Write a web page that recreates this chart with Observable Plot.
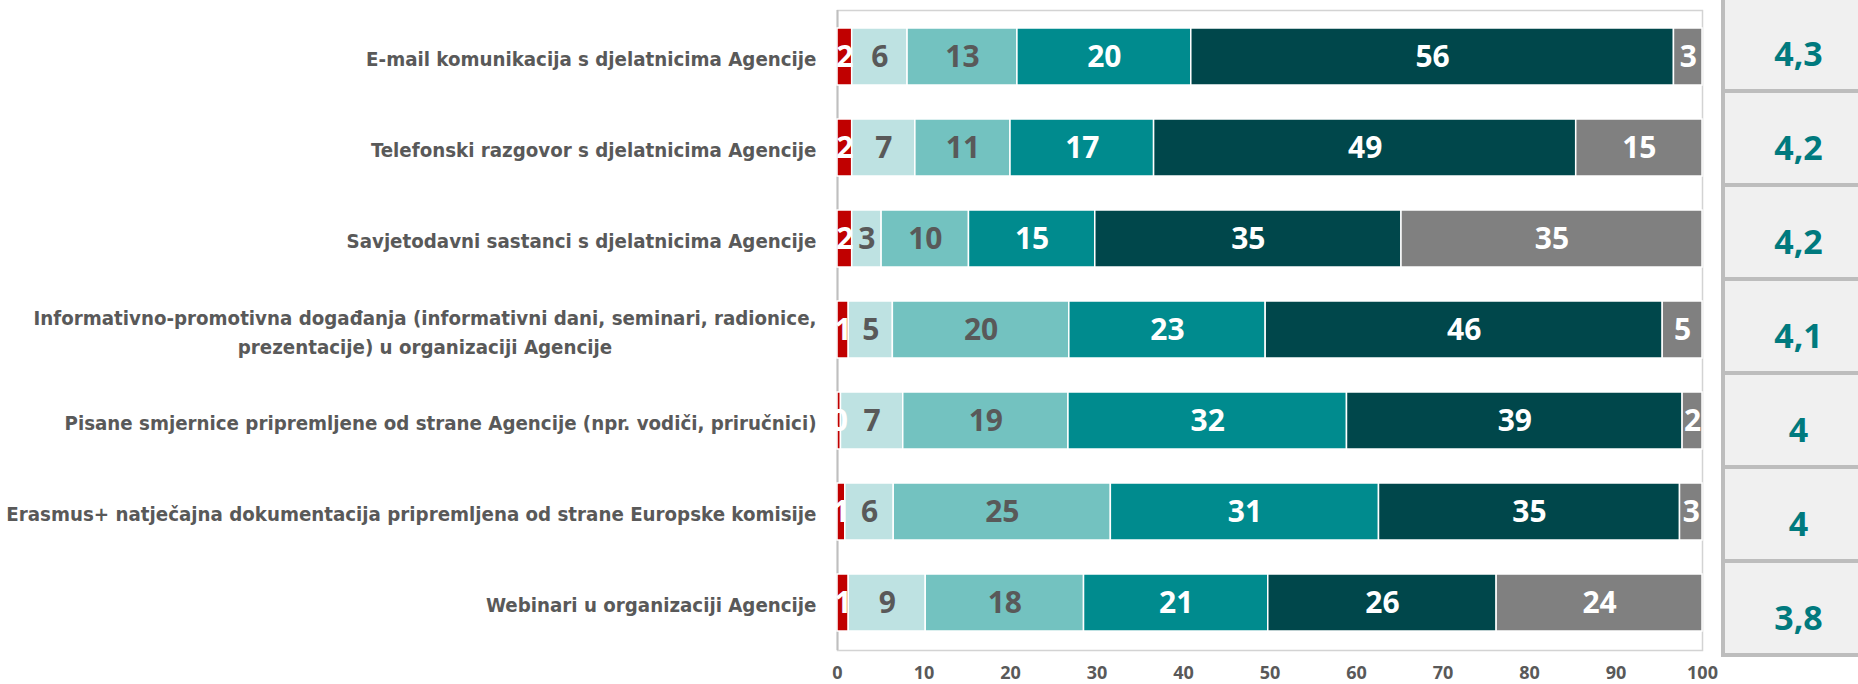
<!DOCTYPE html>
<html><head><meta charset="utf-8">
<script src="https://cdn.jsdelivr.net/npm/d3@7"></script>
<script src="https://cdn.jsdelivr.net/npm/@observablehq/plot@0.6"></script>
<style>
html,body{margin:0;padding:0;background:#fff;overflow:hidden;}
#wrap{position:relative;width:1858px;height:684px;overflow:hidden;}
#box{position:absolute;left:1721px;top:-4px;width:152px;height:661px;}
</style></head><body><div id="wrap"><div id="main"></div><div id="box"></div></div>
<script>
const categories = [
  "E-mail komunikacija s djelatnicima Agencije",
  "Telefonski razgovor s djelatnicima Agencije",
  "Savjetodavni sastanci s djelatnicima Agencije",
  "Informativno-promotivna događanja (informativni dani, seminari, radionice,\nprezentacije) u organizaciji Agencije",
  "Pisane smjernice pripremljene od strane Agencije (npr. vodiči, priručnici)",
  "Erasmus+ natječajna dokumentacija pripremljena od strane Europske komisije",
  "Webinari u organizaciji Agencije"
];
const seriesNames = ["1", "2", "3", "4", "5", "Ne znam"];
const seriesColors = ["#C00000", "#BEE2E2", "#73C2C0", "#008B8E", "#00474B", "#808080"];
const darkLabelSeries = ["2", "3"];

const s1 = [1.7, 1.7, 1.7, 1.3, 0.4, 0.9, 1.3];
const s2 = [6.4, 7.3, 3.4, 5.1, 7.2, 5.6, 8.9];
const s3 = [12.7, 11.0, 10.1, 20.4, 19.1, 25.1, 18.3];
const s4 = [20.1, 16.6, 14.6, 22.7, 32.2, 31.0, 21.3];
const s5 = [55.8, 48.8, 35.4, 45.9, 38.8, 34.8, 26.4];
const sNA = [3.3, 14.6, 34.8, 4.6, 2.3, 2.6, 23.8];
const averages = [4.3, 4.2, 4.2, 4.1, 4.0, 4.0, 3.8];
const xTicks = [0, 10, 20, 30, 40, 50, 60, 70, 80, 90, 100];

const seriesValues = [s1, s2, s3, s4, s5, sNA];
const rows = [];
seriesNames.forEach((s, si) => {
  categories.forEach((c, ci) => rows.push({category: c, series: s, value: seriesValues[si][ci]}));
});
const avgRows = categories.map((c, i) => ({category: c, avg: averages[i]}));

const numFont = "'Open Sans', 'Noto Sans', sans-serif";
const labelFont = "'Liberation Sans Narrow', 'DejaVu Sans Condensed', 'Open Sans', sans-serif";

const main = Plot.plot({
  width: 1858, height: 684,
  marginLeft: 837, marginRight: 156, marginTop: 10, marginBottom: 34,
  style: {fontFamily: numFont, background: "white"},
  x: {domain: [0, 100]},
  y: {domain: categories, paddingInner: 0.37, paddingOuter: 0.185},
  color: {domain: seriesNames, range: seriesColors},
  marks: [
    Plot.frame({stroke: "#D3D3D3", strokeWidth: 1.5}),
    Plot.ruleX([0], {stroke: "#BFBFBF", strokeWidth: 2}),
    Plot.barX(rows, Plot.stackX({x: "value", y: "category", fill: "series", stroke: "white", strokeWidth: 1.5})),
    Plot.text(rows, Plot.stackX({x: "value", y: "category", z: "series",
      text: d => darkLabelSeries.includes(d.series) ? String(Math.round(d.value)) : "",
      fill: "#595959", fontSize: 30, fontWeight: "bold", fontFamily: numFont})),
    Plot.text(rows, Plot.stackX({x: "value", y: "category", z: "series",
      text: d => darkLabelSeries.includes(d.series) ? "" : String(Math.round(d.value)),
      fill: "white", fontSize: 30, fontWeight: "bold", fontFamily: numFont})),
    Plot.axisX({ticks: xTicks, tickSize: 0, tickPadding: 16, fontSize: 18, fontWeight: "bold", color: "#595959", label: null, fontFamily: numFont}),
    Plot.axisY({tickSize: 0, tickPadding: 21, fontSize: 20.3, fontWeight: "bold", color: "#595959", label: null, lineHeight: 1.45, fontFamily: labelFont})
  ]
});
document.getElementById("main").appendChild(main);

// center the lines of wrapped category labels (right edge of the longest line stays at the axis)
main.querySelectorAll('g[aria-label="y-axis tick label"] text').forEach(t => {
  const spans = t.querySelectorAll("tspan");
  if (spans.length > 1) {
    let w = 0;
    spans.forEach(s => { w = Math.max(w, s.getComputedTextLength()); });
    t.setAttribute("text-anchor", "middle");
    spans.forEach(s => s.setAttribute("x", -w / 2));
  }
});

const box = Plot.plot({
  width: 152, height: 661,
  marginLeft: 2, marginRight: 0, marginTop: 0, marginBottom: 2,
  style: {fontFamily: numFont, background: "transparent", overflow: "visible"},
  x: {axis: null},
  y: {domain: categories, padding: 0, axis: null},
  marks: [
    Plot.cell(avgRows, {y: "category", fill: "#F0F0F0", stroke: "#BDBDBD", strokeWidth: 4, inset: 0}),
    Plot.text(avgRows, {y: "category", text: d => String(d.avg).replace(".", ","), fill: "#007A7E",
      fontSize: 34, fontWeight: "bold", dy: 11})
  ]
});
box.style.maxWidth = "none";
document.getElementById("box").appendChild(box);
</script></body></html>
